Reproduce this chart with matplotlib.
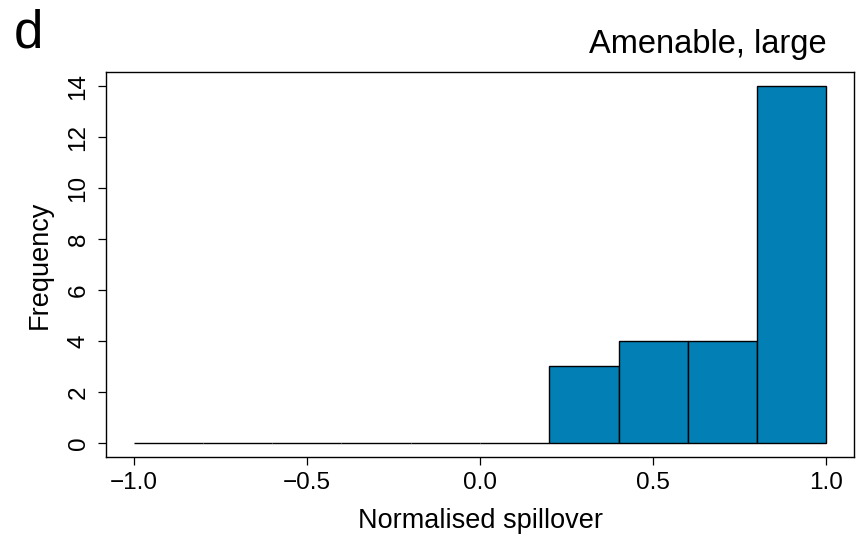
import numpy as np
import matplotlib.pyplot as plt
import matplotlib.transforms as mtransforms

plt.rcParams['font.family'] = ['Liberation Sans', 'DejaVu Sans']

# histogram bins and counts
bin_edges = [-1.0, -0.8, -0.6, -0.4, -0.2, 0.0, 0.2, 0.4, 0.6, 0.8, 1.0]
counts = [0, 0, 0, 0, 0, 0, 3, 4, 4, 14]
x_ticks = [-1.0, -0.5, 0.0, 0.5, 1.0]
x_ticklabels = ['\u22121.0', '\u22120.5', '0.0', '0.5', '1.0']
y_ticks = [0, 2, 4, 6, 8, 10, 12, 14]

fig = plt.figure(figsize=(8.61, 5.37), dpi=100)
ax = fig.add_axes([106 / 861, 80 / 537, 748 / 861, 385 / 537])

edges = np.array(bin_edges)
ax.bar(edges[:-1], counts, width=np.diff(edges), align='edge',
       color='#027fb4', edgecolor='black', linewidth=1.0)

ax.set_xlim(-1.08, 1.08)
ax.set_ylim(-0.56, 14.56)
ax.set_xticks(x_ticks)
ax.set_xticklabels(x_ticklabels)
ax.set_yticks(y_ticks)
ax.set_yticklabels([str(v) for v in y_ticks], rotation=90, va='center')
ax.tick_params(axis='both', labelsize=17.5, length=5.8, width=0.9)
ax.tick_params(axis='x', pad=5)
ax.tick_params(axis='y', pad=6)
for s in ax.spines.values():
    s.set_linewidth(1.0)

ax.set_xlabel('Normalised spillover', fontsize=19.5, labelpad=10)
ax.set_ylabel('Frequency', fontsize=19.5, labelpad=11)

# title right end sits over x = 1.0
trans = mtransforms.blended_transform_factory(ax.transData, ax.transAxes)
ax.text(1.0, 1.0 + 19 / 385, 'Amenable, large', transform=trans,
        fontsize=23.5, ha='right', va='baseline')
fig.text(14 / 861, 1 - 47 / 537, 'd', fontsize=38, ha='left', va='baseline')

fig.savefig('out.png', dpi=100)
